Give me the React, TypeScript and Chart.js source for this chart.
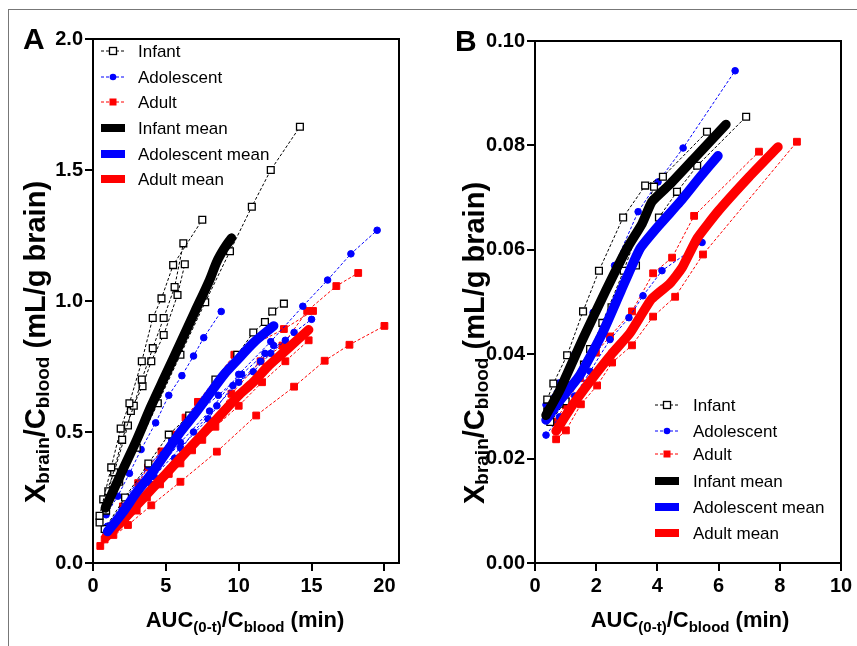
import React, { useEffect, useRef } from 'react';
import { Chart, registerables } from 'chart.js';

Chart.register(...registerables);

type P = [number, number];

// ---------- Panel A data (x = AUC/Cblood min, y = Xbrain/Cblood mL/g) ----------
const infantA1: P[] = [[0.45, 0.18], [1.25, 0.365], [1.9, 0.513], [2.5, 0.61], [3.35, 0.77], [4.1, 0.935], [4.7, 1.01], [5.5, 1.137], [7.5, 1.31]];
const infantA2: P[] = [[0.45, 0.155], [1.05, 0.274], [2.0, 0.47], [2.8, 0.6], [3.35, 0.7], [4.1, 0.82], [4.85, 0.935], [5.6, 1.053], [6.2, 1.22]];
const infantA3: P[] = [[0.7, 0.243], [1.45, 0.346], [2.4, 0.525], [2.6, 0.58], [3.4, 0.675], [4.0, 0.77], [4.85, 0.87], [5.8, 1.023], [6.3, 1.14]];
const infantA4: P[] = [[0.9, 0.2], [1.8, 0.31], [3.0, 0.44], [4.45, 0.61], [6.0, 0.795], [7.7, 0.995], [9.4, 1.19], [10.9, 1.36], [12.2, 1.5], [14.2, 1.665]];
const infantA5: P[] = [[0.8, 0.13], [2.2, 0.25], [3.8, 0.38], [5.2, 0.49], [6.6, 0.563], [8.4, 0.7], [9.9, 0.795], [11.0, 0.88], [11.8, 0.92], [12.3, 0.96], [13.1, 0.99]];

const adolA1: P[] = [[0.9, 0.184], [1.7, 0.255], [2.5, 0.342], [3.3, 0.433], [4.3, 0.535], [5.2, 0.64], [6.1, 0.715], [6.9, 0.79], [7.6, 0.86], [8.8, 0.96]];
const adolA2: P[] = [[1.0, 0.14], [2.0, 0.2], [4.0, 0.33], [6.0, 0.46], [8.0, 0.58], [10.0, 0.72], [12.2, 0.845], [14.4, 0.98], [16.1, 1.08], [17.7, 1.18], [19.5, 1.27]];
const adolA3: P[] = [[1.0, 0.12], [2.5, 0.22], [4.2, 0.33], [6.0, 0.44], [7.9, 0.55], [9.6, 0.677], [11.0, 0.73], [12.2, 0.8], [13.8, 0.88], [15.0, 0.93]];
const adolA4: P[] = [[1.0, 0.14], [2.3, 0.25], [3.8, 0.37], [5.4, 0.47], [6.9, 0.56], [8.6, 0.64], [10.2, 0.72], [11.8, 0.8], [13.2, 0.85]];
const adolA5: P[] = [[0.9, 0.11], [2.3, 0.2], [4.0, 0.3], [5.6, 0.4], [6.9, 0.5], [8.5, 0.6], [10.0, 0.69], [11.5, 0.77], [12.4, 0.83]];

const adultA1: P[] = [[0.5, 0.065], [2.4, 0.145], [4.0, 0.22], [6.0, 0.31], [8.5, 0.425], [11.2, 0.563], [13.8, 0.673], [15.9, 0.772], [17.6, 0.833], [20.0, 0.905]];
const adultA2: P[] = [[1.0, 0.11], [2.05, 0.216], [3.1, 0.305], [3.77, 0.365], [4.7, 0.426], [5.6, 0.49], [6.35, 0.555], [7.2, 0.615], [9.7, 0.795], [13.1, 0.893], [15.1, 0.962]];
const adultA3: P[] = [[1.4, 0.107], [3.0, 0.2], [4.6, 0.3], [6.0, 0.38], [7.5, 0.47], [9.5, 0.646], [11.5, 0.77], [13.0, 0.83], [14.7, 0.962], [16.7, 1.057], [18.2, 1.107]];
const adultA4: P[] = [[0.8, 0.09], [2.2, 0.16], [3.7, 0.25], [5.2, 0.34], [6.8, 0.43], [8.4, 0.52], [10.0, 0.6], [11.6, 0.69], [13.2, 0.77], [14.8, 0.85]];

const infantMeanA: P[] = [[0.85, 0.21], [2, 0.35], [3, 0.47], [4, 0.6], [5, 0.72], [6, 0.84], [7, 0.96], [8, 1.08], [8.5, 1.15], [9.0, 1.2], [9.5, 1.24]];
const adolMeanA: P[] = [[1.0, 0.12], [2, 0.19], [3, 0.27], [4, 0.34], [5, 0.42], [6, 0.5], [7, 0.57], [8, 0.645], [9, 0.72], [10, 0.78], [11, 0.84], [12.4, 0.905]];
const adultMeanA: P[] = [[0.9, 0.1], [2, 0.16], [3, 0.22], [4, 0.28], [5, 0.34], [6, 0.4], [7, 0.46], [8, 0.52], [9, 0.58], [10, 0.64], [11, 0.69], [12, 0.75], [13, 0.8], [14, 0.85], [14.8, 0.89]];

// ---------- Panel B data ----------
const infantB1: P[] = [[0.4, 0.0313], [0.6, 0.0344], [1.05, 0.0398], [1.57, 0.0482], [2.09, 0.056], [2.88, 0.0662], [3.6, 0.0723], [4.18, 0.074], [5.62, 0.0826]];
const infantB2: P[] = [[0.4, 0.029], [0.8, 0.0305], [1.14, 0.034], [1.8, 0.041], [2.5, 0.049], [3.3, 0.057], [4.05, 0.0662], [4.64, 0.0711], [5.3, 0.0761], [6.9, 0.0855]];
const infantB3: P[] = [[0.5, 0.027], [1.0, 0.031], [1.6, 0.038], [2.2, 0.046], [2.9, 0.056], [3.89, 0.0721]];

const adolB1: P[] = [[0.36, 0.0303], [0.8, 0.0345], [1.3, 0.04], [1.9, 0.048], [2.6, 0.057], [3.37, 0.0673], [4.02, 0.073], [4.84, 0.0795], [6.54, 0.0943]];
const adolB2: P[] = [[0.36, 0.0245], [0.8, 0.028], [1.3, 0.032], [1.8, 0.0367], [2.45, 0.0428], [3.07, 0.047], [3.53, 0.0512], [4.15, 0.056], [5.46, 0.0614]];

const adultB1: P[] = [[0.62, 0.0271], [1.01, 0.0302], [1.47, 0.0354], [1.99, 0.0403], [2.45, 0.0434], [3.17, 0.0482], [3.86, 0.0555], [4.48, 0.0585], [5.2, 0.0665], [7.32, 0.0788]];
const adultB2: P[] = [[0.69, 0.0237], [1.01, 0.0254], [1.5, 0.0304], [2.03, 0.034], [2.52, 0.0384], [3.17, 0.0417], [3.86, 0.0472], [4.58, 0.051], [5.49, 0.0591], [8.56, 0.0807]];

const infantMeanB: P[] = [[0.36, 0.0283], [0.8, 0.033], [1.57, 0.043], [2.3, 0.052], [3.0, 0.0602], [3.5, 0.065], [3.82, 0.0692], [4.4, 0.0725], [5.2, 0.0775], [6.24, 0.084]];
const adolMeanB: P[] = [[0.36, 0.0274], [0.8, 0.031], [1.47, 0.036], [2.2, 0.044], [2.8, 0.052], [3.43, 0.0602], [4.1, 0.065], [4.74, 0.0692], [5.4, 0.074], [5.98, 0.078]];
const adultMeanB: P[] = [[0.69, 0.0253], [1.2, 0.03], [1.8, 0.0348], [2.5, 0.04], [3.1, 0.044], [3.8, 0.0505], [4.4, 0.0535], [4.8, 0.0565], [5.3, 0.0622], [6.0, 0.0675], [7.0, 0.074], [7.94, 0.0797]];

const legendLabels = ['Infant', 'Adolescent', 'Adult', 'Infant mean', 'Adolescent mean', 'Adult mean'];
const legendKinds = ['infant', 'adol', 'adult', 'infant', 'adol', 'adult'];

const FONT = "'Liberation Sans', Arial, Helvetica, sans-serif";
const COLORS: Record<string, string> = { infant: '#000000', adol: '#0000ff', adult: '#ff0000' };

const toXY = (arr: P[]) => arr.map(([x, y]) => ({ x, y }));

function indiv(arr: P[], kind: string) {
  const c = COLORS[kind];
  return {
    data: toXY(arr),
    borderColor: c,
    borderWidth: 1,
    borderDash: [3, 2],
    pointStyle: kind === 'adol' ? 'circle' : 'rect',
    pointRadius: kind === 'adol' ? 3.3 : 4.8,
    pointBackgroundColor: kind === 'infant' ? '#ffffff' : c,
    pointBorderColor: c,
    pointBorderWidth: kind === 'infant' ? 1.3 : 1,
    tension: 0,
    fill: false,
    order: 3,
  };
}

function mean(arr: P[], kind: string, order: number, tension: number) {
  return {
    data: toXY(arr),
    borderColor: COLORS[kind],
    borderWidth: 9.5,
    borderCapStyle: 'round',
    borderJoinStyle: 'round',
    pointRadius: 0,
    tension,
    fill: false,
    order,
  };
}

type Part = [string, boolean];

function drawRich(ctx: CanvasRenderingContext2D, parts: Part[], cx: number, baseline: number, main: number, sub: number, subShift: number) {
  const mf = `bold ${main}px ${FONT}`;
  const sf = `bold ${sub}px ${FONT}`;
  let total = 0;
  for (const [t, s] of parts) {
    ctx.font = s ? sf : mf;
    total += ctx.measureText(t).width;
  }
  let x = cx - total / 2;
  ctx.textAlign = 'left';
  ctx.textBaseline = 'alphabetic';
  for (const [t, s] of parts) {
    ctx.font = s ? sf : mf;
    ctx.fillText(t, x, baseline + (s ? subShift : 0));
    x += ctx.measureText(t).width;
  }
}

const yTitleParts: Part[] = [['X', false], ['brain', true], ['/C', false], ['blood', true], [' (mL/g brain)', false]];
const xTitleParts: Part[] = [['AUC', false], ['(0-t)', true], ['/C', false], ['blood', true], [' (min)', false]];

interface Cfg {
  letter: string;
  letterX: number;
  letterY: number;
  legendX: number;
  legendTextX: number;
  legendYs: number[];
  xTitleX: number;
  xTitleY: number;
  yTitleX: number;
  yTitleY: number;
  xMax: number;
  xStep: number;
  yMax: number;
  yStep: number;
  yDigits: number;
  yWidth: number;
  xHeight: number;
  padTop: number;
  padRight: number;
}

function decor(cfg: Cfg) {
  return {
    id: 'decor' + cfg.letter,
    afterDraw(chart: any) {
      const ctx: CanvasRenderingContext2D = chart.ctx;
      const a = chart.chartArea;
      ctx.save();
      ctx.strokeStyle = '#000';
      ctx.lineWidth = 2;
      ctx.setLineDash([]);
      ctx.strokeRect(a.left, a.top, a.right - a.left, a.bottom - a.top);

      // legend
      legendLabels.forEach((lab, i) => {
        const kind = legendKinds[i];
        const c = COLORS[kind];
        const y = cfg.legendYs[i];
        const x0 = cfg.legendX;
        if (i < 3) {
          ctx.strokeStyle = c;
          ctx.lineWidth = 1;
          ctx.setLineDash([3, 2]);
          ctx.beginPath();
          ctx.moveTo(x0, y);
          ctx.lineTo(x0 + 24, y);
          ctx.stroke();
          ctx.setLineDash([]);
          const mx = x0 + 12;
          if (kind === 'infant') {
            ctx.fillStyle = '#fff';
            ctx.fillRect(mx - 3.5, y - 3.5, 7, 7);
            ctx.lineWidth = 1.3;
            ctx.strokeStyle = '#000';
            ctx.strokeRect(mx - 3.5, y - 3.5, 7, 7);
          } else if (kind === 'adol') {
            ctx.fillStyle = c;
            ctx.beginPath();
            ctx.arc(mx, y, 3.3, 0, Math.PI * 2);
            ctx.fill();
          } else {
            ctx.fillStyle = c;
            ctx.fillRect(mx - 3.5, y - 3.5, 7, 7);
          }
        } else {
          ctx.fillStyle = c;
          ctx.fillRect(x0, y - 4, 24, 8);
        }
        ctx.fillStyle = '#000';
        ctx.font = `17px ${FONT}`;
        ctx.textAlign = 'left';
        ctx.textBaseline = 'middle';
        ctx.fillText(lab, cfg.legendTextX, y + 1);
      });

      ctx.fillStyle = '#000';
      // x title
      drawRich(ctx, xTitleParts, cfg.xTitleX, cfg.xTitleY, 22, 15, 5);
      // y title
      ctx.save();
      ctx.translate(cfg.yTitleX, cfg.yTitleY);
      ctx.rotate(-Math.PI / 2);
      drawRich(ctx, yTitleParts, 0, 0, 29, 19, 4);
      ctx.restore();

      // panel letter
      ctx.font = `bold 30px ${FONT}`;
      ctx.textAlign = 'left';
      ctx.textBaseline = 'alphabetic';
      ctx.fillText(cfg.letter, cfg.letterX, cfg.letterY);
      ctx.restore();
    },
  };
}

function buildChart(canvas: HTMLCanvasElement, datasets: any[], cfg: Cfg) {
  const tickFont = { family: FONT, size: 20, weight: 'bold' as const };
  return new Chart(canvas, {
    type: 'line',
    data: { datasets },
    options: {
      animation: false,
      responsive: false,
      devicePixelRatio: 1,
      layout: { padding: { top: cfg.padTop, right: cfg.padRight, left: 0, bottom: 0 } },
      plugins: { legend: { display: false }, tooltip: { enabled: false }, title: { display: false } },
      scales: {
        x: {
          type: 'linear',
          min: 0,
          max: cfg.xMax,
          afterFit: (s: any) => {
            s.height = cfg.xHeight;
          },
          ticks: {
            stepSize: cfg.xStep,
            includeBounds: false,
            color: '#000',
            font: tickFont,
            padding: 3,
            maxRotation: 0,
            autoSkip: false,
          },
          grid: { display: true, drawOnChartArea: false, drawTicks: true, tickLength: 8, color: '#000', lineWidth: 2 },
          border: { display: true, color: '#000', width: 2 },
        },
        y: {
          type: 'linear',
          min: 0,
          max: cfg.yMax,
          afterFit: (s: any) => {
            s.width = cfg.yWidth;
          },
          ticks: {
            stepSize: cfg.yStep,
            color: '#000',
            font: tickFont,
            padding: 2,
            autoSkip: false,
            callback: (v: any) => Number(v).toFixed(cfg.yDigits),
          },
          grid: { display: true, drawOnChartArea: false, drawTicks: true, tickLength: 8, color: '#000', lineWidth: 2 },
          border: { display: true, color: '#000', width: 2 },
        },
      },
    } as any,
    plugins: [decor(cfg)],
  });
}

const cfgA: Cfg = {
  letter: 'A', letterX: 23, letterY: 49,
  legendX: 101, legendTextX: 138, legendYs: [51, 77, 102, 128, 154, 179],
  xTitleX: 245, xTitleY: 627, yTitleX: 45, yTitleY: 342,
  xMax: 21, xStep: 5, yMax: 2, yStep: 0.5, yDigits: 1,
  yWidth: 93, xHeight: 83, padTop: 39, padRight: 31,
};

const cfgB: Cfg = {
  letter: 'B', letterX: 25, letterY: 51,
  legendX: 225, legendTextX: 263, legendYs: [405, 431, 454, 481, 507, 533],
  xTitleX: 260, xTitleY: 627, yTitleX: 54, yTitleY: 343,
  xMax: 10, xStep: 2, yMax: 0.1, yStep: 0.02, yDigits: 2,
  yWidth: 105, xHeight: 83, padTop: 41, padRight: 16,
};

export default function App() {
  const refA = useRef<HTMLCanvasElement>(null);
  const refB = useRef<HTMLCanvasElement>(null);

  useEffect(() => {
    const dsA = [
      mean(infantMeanA, 'infant', 0, 0.3),
      mean(adolMeanA, 'adol', 1, 0.3),
      mean(adultMeanA, 'adult', 2, 0.3),
      indiv(infantA1, 'infant'), indiv(infantA2, 'infant'), indiv(infantA3, 'infant'), indiv(infantA4, 'infant'), indiv(infantA5, 'infant'),
      indiv(adolA1, 'adol'), indiv(adolA2, 'adol'), indiv(adolA3, 'adol'), indiv(adolA4, 'adol'), indiv(adolA5, 'adol'),
      indiv(adultA1, 'adult'), indiv(adultA2, 'adult'), indiv(adultA3, 'adult'), indiv(adultA4, 'adult'),
    ];
    const dsB = [
      mean(infantMeanB, 'infant', 0, 0.15),
      mean(adolMeanB, 'adol', 1, 0.15),
      mean(adultMeanB, 'adult', 2, 0.15),
      indiv(infantB1, 'infant'), indiv(infantB2, 'infant'), indiv(infantB3, 'infant'),
      indiv(adolB1, 'adol'), indiv(adolB2, 'adol'),
      indiv(adultB1, 'adult'), indiv(adultB2, 'adult'),
    ];
    const a = buildChart(refA.current!, dsA, cfgA);
    const b = buildChart(refB.current!, dsB, cfgB);
    return () => {
      a.destroy();
      b.destroy();
    };
  }, []);

  return (
    <div style={{ position: 'absolute', left: 0, top: 0, width: 857, height: 646, background: '#fff', overflow: 'hidden' }}>
      <div style={{ position: 'absolute', left: 8, top: 9, width: 900, height: 700, borderLeft: '1px solid #777', borderTop: '1px solid #777' }} />
      <canvas ref={refA} width={430} height={646} style={{ position: 'absolute', left: 0, top: 0, width: 430, height: 646 }} />
      <canvas ref={refB} width={427} height={646} style={{ position: 'absolute', left: 430, top: 0, width: 427, height: 646 }} />
    </div>
  );
}
